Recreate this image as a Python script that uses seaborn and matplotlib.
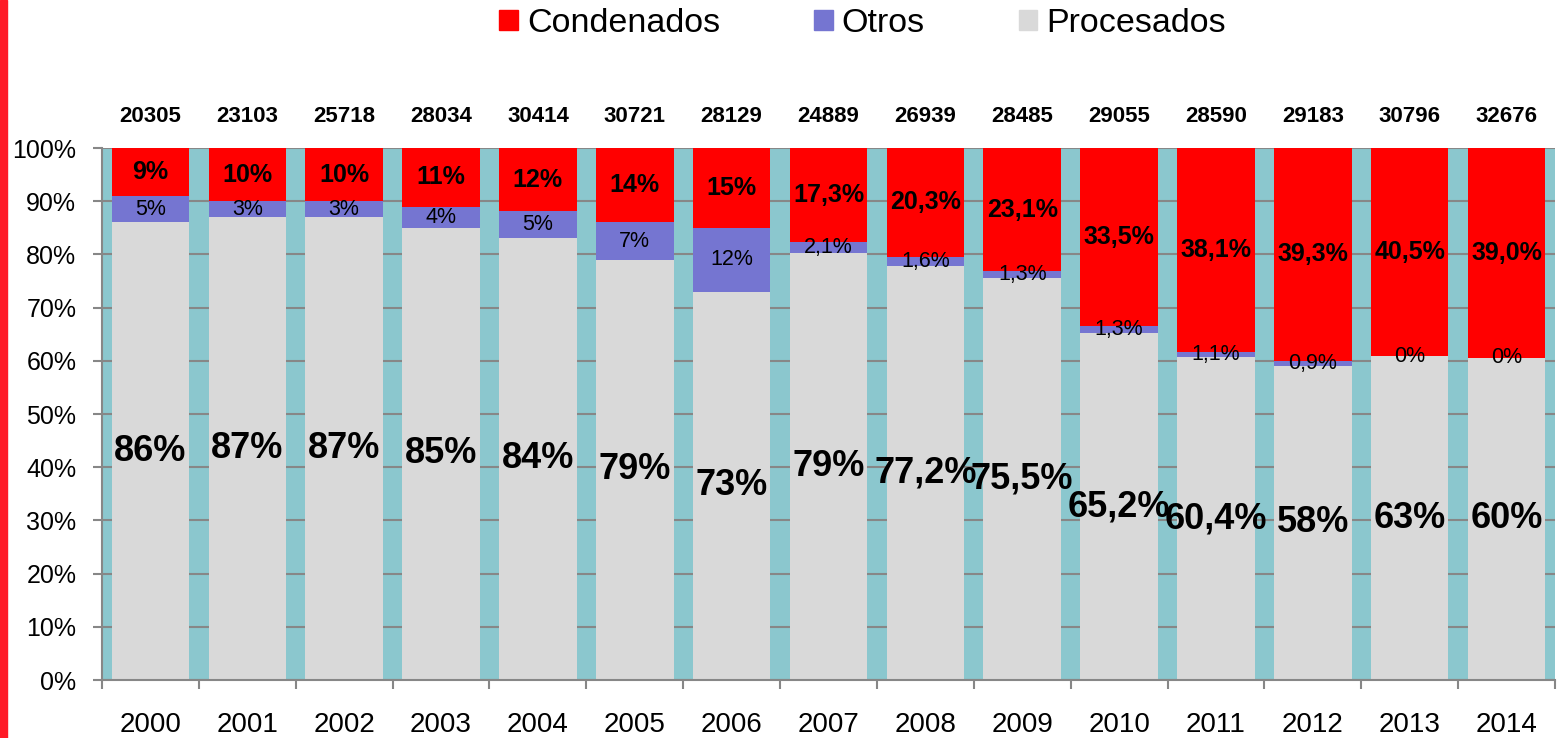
import numpy as np
import pandas as pd
import matplotlib
matplotlib.use("Agg")
import matplotlib.pyplot as plt
import seaborn as sns
from matplotlib.patches import Patch, Rectangle

# data
years = ["2000", "2001", "2002", "2003", "2004", "2005", "2006", "2007",
         "2008", "2009", "2010", "2011", "2012", "2013", "2014"]
totales = [20305, 23103, 25718, 28034, 30414, 30721, 28129, 24889,
           26939, 28485, 29055, 28590, 29183, 30796, 32676]
procesados = [86, 87, 87, 85, 84, 79, 73, 79, 77.2, 75.5, 65.2, 60.4, 58, 63, 60]
otros = [5, 3, 3, 4, 5, 7, 12, 2.1, 1.6, 1.3, 1.3, 1.1, 0.9, 0, 0]
condenados = [9, 10, 10, 11, 12, 14, 15, 17.3, 20.3, 23.1, 33.5, 38.1, 39.3, 40.5, 39.0]

proc_labels = ["86%", "87%", "87%", "85%", "84%", "79%", "73%", "79%",
               "77,2%", "75,5%", "65,2%", "60,4%", "58%", "63%", "60%"]
otros_labels = ["5%", "3%", "3%", "4%", "5%", "7%", "12%", "2,1%",
                "1,6%", "1,3%", "1,3%", "1,1%", "0,9%", "0%", "0%"]
cond_labels = ["9%", "10%", "10%", "11%", "12%", "14%", "15%", "17,3%",
               "20,3%", "23,1%", "33,5%", "38,1%", "39,3%", "40,5%", "39,0%"]

RED = "#FF0000"
PURPLE = "#7575D1"
GRAY = "#D9D9D9"
TEAL = "#8BC7CE"
GRID = "#878787"

# 100% stacked -> normalise each year
df = pd.DataFrame({"year": years, "proc": procesados, "otros": otros, "cond": condenados})
tot = df["proc"] + df["otros"] + df["cond"]
df["p_n"] = df["proc"] / tot * 100
df["po_n"] = (df["proc"] + df["otros"]) / tot * 100
df["all_n"] = 100.0

sns.set_theme(style="white")
plt.rcParams["font.family"] = ["Liberation Sans", "DejaVu Sans"]
plt.rcParams["text.color"] = "black"

fig = plt.figure(figsize=(15.6, 7.38), dpi=100)
ax = fig.add_axes([102 / 1560, 1 - 680 / 738, (1555 - 102) / 1560, 532 / 738])
ax.set_facecolor(TEAL)

# overlapping bars from zero: total, proc+otros, proc
sns.barplot(data=df, x="year", y="all_n", color=RED, saturation=1, width=0.8,
            linewidth=0, ax=ax)
sns.barplot(data=df, x="year", y="po_n", color=PURPLE, saturation=1, width=0.8,
            linewidth=0, ax=ax)
sns.barplot(data=df, x="year", y="p_n", color=GRAY, saturation=1, width=0.8,
            linewidth=0, ax=ax)

ax.set_xlim(-0.5, 14.5)
ax.set_ylim(0, 100)
ax.set_yticks(np.arange(0, 101, 10))
ax.set_yticklabels([f"{v}%" for v in range(0, 101, 10)])
ax.set_xlabel("")
ax.set_ylabel("")

ax.yaxis.grid(True, color=GRID, lw=1.5)
ax.xaxis.grid(False)
for s in ["top", "right"]:
    ax.spines[s].set_visible(False)
for s in ["left", "bottom"]:
    ax.spines[s].set_color(GRID)
    ax.spines[s].set_linewidth(1.5)

ax.tick_params(axis="y", length=6.5, width=1.5, color=GRID, labelsize=18, pad=12,
               labelcolor="black", left=True)
ax.tick_params(axis="x", which="major", length=0, labelsize=20, pad=23, labelcolor="black")
ax.set_xticks(np.arange(-0.5, 15, 1), minor=True)
ax.tick_params(axis="x", which="minor", length=6.5, width=1.5, color=GRID, bottom=True)
ax.set_axisbelow(True)

# labels
for i in range(len(years)):
    p = df["p_n"][i]
    po = df["po_n"][i]
    ax.text(i, p / 2, proc_labels[i], ha="center", va="center", color="black",
            fontsize=26, fontweight="bold")
    ax.text(i, (p + po) / 2, otros_labels[i], ha="center", va="center", color="black",
            fontsize=15.5)
    ax.text(i, (po + 100) / 2, cond_labels[i], ha="center", va="center", color="black",
            fontsize=18, fontweight="bold")
    ax.text(i, 106.0, str(totales[i]), ha="center", va="center", color="black",
            fontsize=16, fontweight="bold", clip_on=False)

handles = [Patch(color=RED, label="Condenados"),
           Patch(color=PURPLE, label="Otros"),
           Patch(color=GRAY, label="Procesados")]
fig.legend(handles=handles, loc="center", bbox_to_anchor=(0.553, 0.968), ncol=3,
           frameon=False, fontsize=24.5, handlelength=0.55, handleheight=0.55,
           handletextpad=0.27, columnspacing=2.75, labelcolor="black")

# red stripe on the left edge
fig.patches.append(Rectangle((0, 0), 7 / 1560, 1, transform=fig.transFigure,
                             color="#FF1A26", zorder=0))

fig.savefig("out.png", dpi=100)
